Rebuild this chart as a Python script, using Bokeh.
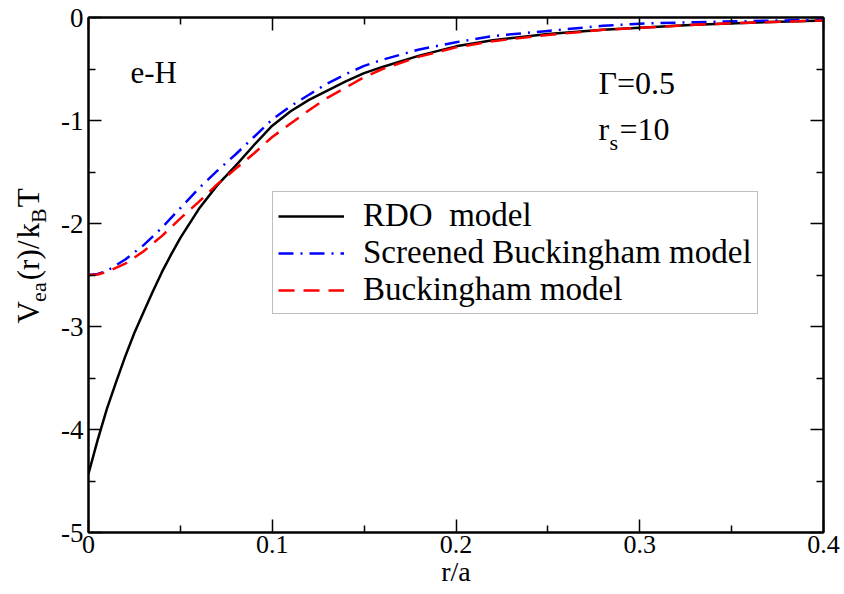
from bokeh.plotting import figure
from bokeh.layouts import row
from bokeh.models import (Range1d, LinearAxis, FixedTicker, Label, Legend, LegendItem,
                          CustomLabelingPolicy)
from bokeh.embed import file_html
from bokeh.resources import INLINE
import math

# ---- data ----
r_rdo = [0, 0.005, 0.01, 0.015, 0.02, 0.025, 0.03, 0.035, 0.04, 0.045, 0.05, 0.06, 0.07, 0.08,
         0.09, 0.10, 0.11, 0.12, 0.13, 0.14, 0.15, 0.16, 0.18, 0.20, 0.22, 0.25, 0.28, 0.30,
         0.33, 0.36, 0.40]
v_rdo = [-4.43, -4.10, -3.80, -3.54, -3.29, -3.06, -2.86, -2.66, -2.47, -2.30, -2.14, -1.86,
         -1.63, -1.44, -1.24, -1.05, -0.91, -0.80, -0.71, -0.62, -0.54, -0.48, -0.37, -0.28,
         -0.22, -0.16, -0.12, -0.10, -0.07, -0.05, -0.03]

r_buck = [0, 0.005, 0.01, 0.02, 0.03, 0.04, 0.05, 0.06, 0.07, 0.08, 0.09, 0.10, 0.11, 0.12,
          0.13, 0.14, 0.15, 0.16, 0.18, 0.20, 0.22, 0.25, 0.28, 0.30, 0.33, 0.36, 0.40]
v_screened = [-2.50, -2.49, -2.46, -2.35, -2.21, -2.04, -1.85, -1.66, -1.49, -1.33, -1.16, -0.99,
              -0.86, -0.75, -0.64, -0.55, -0.47, -0.41, -0.31, -0.24, -0.18, -0.13, -0.08,
              -0.06, -0.045, -0.035, -0.02]
v_buck = [-2.50, -2.495, -2.47, -2.39, -2.27, -2.12, -1.95, -1.79, -1.62, -1.47, -1.32, -1.16,
          -1.03, -0.90, -0.78, -0.68, -0.58, -0.50, -0.38, -0.29, -0.23, -0.17, -0.12, -0.10,
          -0.07, -0.05, -0.03]

x_ticks = [0, 0.1, 0.2, 0.3, 0.4]
x_minor = [0.05, 0.15, 0.25, 0.35]
x_tick_labels = {0: "0", 0.1: "0.1", 0.2: "0.2", 0.3: "0.3", 0.4: "0.4"}
y_ticks = [-5, -4, -3, -2, -1, 0]
y_minor = [-4.5, -3.5, -2.5, -1.5, -0.5]
y_tick_labels = {-5: "-5", -4: "-4", -3: "-3", -2: "-2", -1: "-1", 0: "0"}

series_names = ["RDO  model", "Screened Buckingham model", "Buckingham model"]
x_title = "r/a"

FONT = "Liberation Serif"

YLAB_W = 50      # width of the strip that holds the y-axis title
W, H = 844, 594

p = figure(width=W - YLAB_W, height=H, output_backend="svg", toolbar_location=None,
           x_range=Range1d(0, 0.4), y_range=Range1d(-5, 0),
           min_border_left=88 - YLAB_W, min_border_right=21, min_border_top=17,
           min_border_bottom=62)
p.xgrid.visible = False
p.ygrid.visible = False
p.outline_line_color = "black"
p.outline_line_width = 2
p.background_fill_color = "white"
p.border_fill_color = "white"

hide_all = CustomLabelingPolicy(code="for (const i of indices) { indices.unset(i) }\nreturn indices")

def style_axis(ax, ticks, minor, labels, show_labels=True):
    ax.ticker = FixedTicker(ticks=ticks, minor_ticks=minor)
    ax.axis_line_color = "black"
    ax.axis_line_width = 2
    ax.major_tick_in = 13
    ax.major_tick_out = 0
    ax.minor_tick_in = 7
    ax.minor_tick_out = 0
    ax.major_tick_line_width = 1.5
    ax.minor_tick_line_width = 1.5
    ax.major_tick_line_color = "black"
    ax.minor_tick_line_color = "black"
    ax.major_label_overrides = labels
    ax.major_label_text_font = FONT
    ax.major_label_text_color = "black"
    if show_labels:
        ax.major_label_text_font_size = "27px"
        ax.major_label_standoff = 5
    else:
        ax.major_label_text_font_size = "1px"
        ax.major_label_text_alpha = 0
        ax.major_label_standoff = 0
        ax.major_label_policy = hide_all

style_axis(p.xaxis[0], x_ticks, x_minor, x_tick_labels)
style_axis(p.yaxis[0], y_ticks, y_minor, y_tick_labels)
p.xaxis[0].major_label_standoff = 3
p.xaxis[0].major_label_text_font_size = "26px"
p.xaxis[0].axis_label = x_title
p.xaxis[0].axis_label_text_font = FONT
p.xaxis[0].axis_label_text_font_size = "28px"
p.xaxis[0].axis_label_text_font_style = "normal"
p.xaxis[0].axis_label_text_color = "black"
p.xaxis[0].axis_label_standoff = 0

top = LinearAxis()
style_axis(top, x_ticks, x_minor, x_tick_labels, show_labels=False)
p.add_layout(top, "above")
right = LinearAxis()
style_axis(right, y_ticks, y_minor, y_tick_labels, show_labels=False)
p.add_layout(right, "right")

l1 = p.line(r_rdo, v_rdo, line_color="black", line_width=2.5)
l2 = p.line(r_buck, v_screened, line_color="#0000ff", line_width=2.5, line_dash="15 7 2 7")
l3 = p.line(r_buck, v_buck, line_color="#ff0000", line_width=2.5, line_dash="16 9")

legend = Legend(items=[LegendItem(label=series_names[0], renderers=[l1]),
                       LegendItem(label=series_names[1], renderers=[l2]),
                       LegendItem(label=series_names[2], renderers=[l3])],
                location=(184, 218))
legend.label_text_font = FONT
legend.label_text_font_size = "33px"
legend.label_text_color = "black"
legend.label_height = 20
legend.glyph_width = 66
legend.glyph_height = 20
legend.label_standoff = 19
legend.padding = 5
legend.spacing = 0
legend.margin = 0
legend.border_line_color = "#808080"
legend.border_line_width = 1.5
legend.background_fill_alpha = 1.0
p.add_layout(legend)

# pixel -> data helpers for the main frame (page px: x 88..823, y 17..532)
def dx(px):
    return (px - 88) / 1837.5
def dy(py):
    return -(py - 17) / 103.0

def add_text(fig, txt, x, y, size, angle=0.0, align="left"):
    fig.add_layout(Label(x=x, y=y, text=txt, text_font=FONT,
                         text_font_size=size, text_color="black", angle=angle,
                         text_align=align, text_baseline="alphabetic"))

# annotations inside the plot
add_text(p, "e-H", dx(130), dy(72), "31px")
add_text(p, "Γ=0.5", dx(598), dy(82), "32px")
add_text(p, "r", dx(598), dy(128), "32px")
add_text(p, "s", dx(609), dy(142), "22px")
add_text(p, "=10", dx(619), dy(128), "32px")

# y-axis title strip (page pixel coordinates, y downward)
ylab = figure(width=YLAB_W, height=H, output_backend="svg", toolbar_location=None,
              x_range=Range1d(0, YLAB_W), y_range=Range1d(H, 0),
              x_axis_location=None, y_axis_location=None,
              min_border=0, outline_line_color=None)
ylab.xgrid.visible = False
ylab.ygrid.visible = False
ylab.background_fill_color = "white"
ylab.border_fill_color = "white"

A = math.pi / 2
MB, SB = 28, 38   # baselines of main text and subscripts
add_text(ylab, "V", MB, 353, "31px", angle=A)
add_text(ylab, "ea", SB, 328, "22px", angle=A)
add_text(ylab, "(r)", MB, 303, "31px", angle=A)
add_text(ylab, "/", MB, 267, "31px", angle=A)
add_text(ylab, "k", MB, 255, "31px", angle=A)
add_text(ylab, "B", SB, 237, "22px", angle=A)
add_text(ylab, "T", MB, 219, "31px", angle=A)

layout = row(ylab, p)
open("out.html", "w").write(file_html(layout, INLINE))
